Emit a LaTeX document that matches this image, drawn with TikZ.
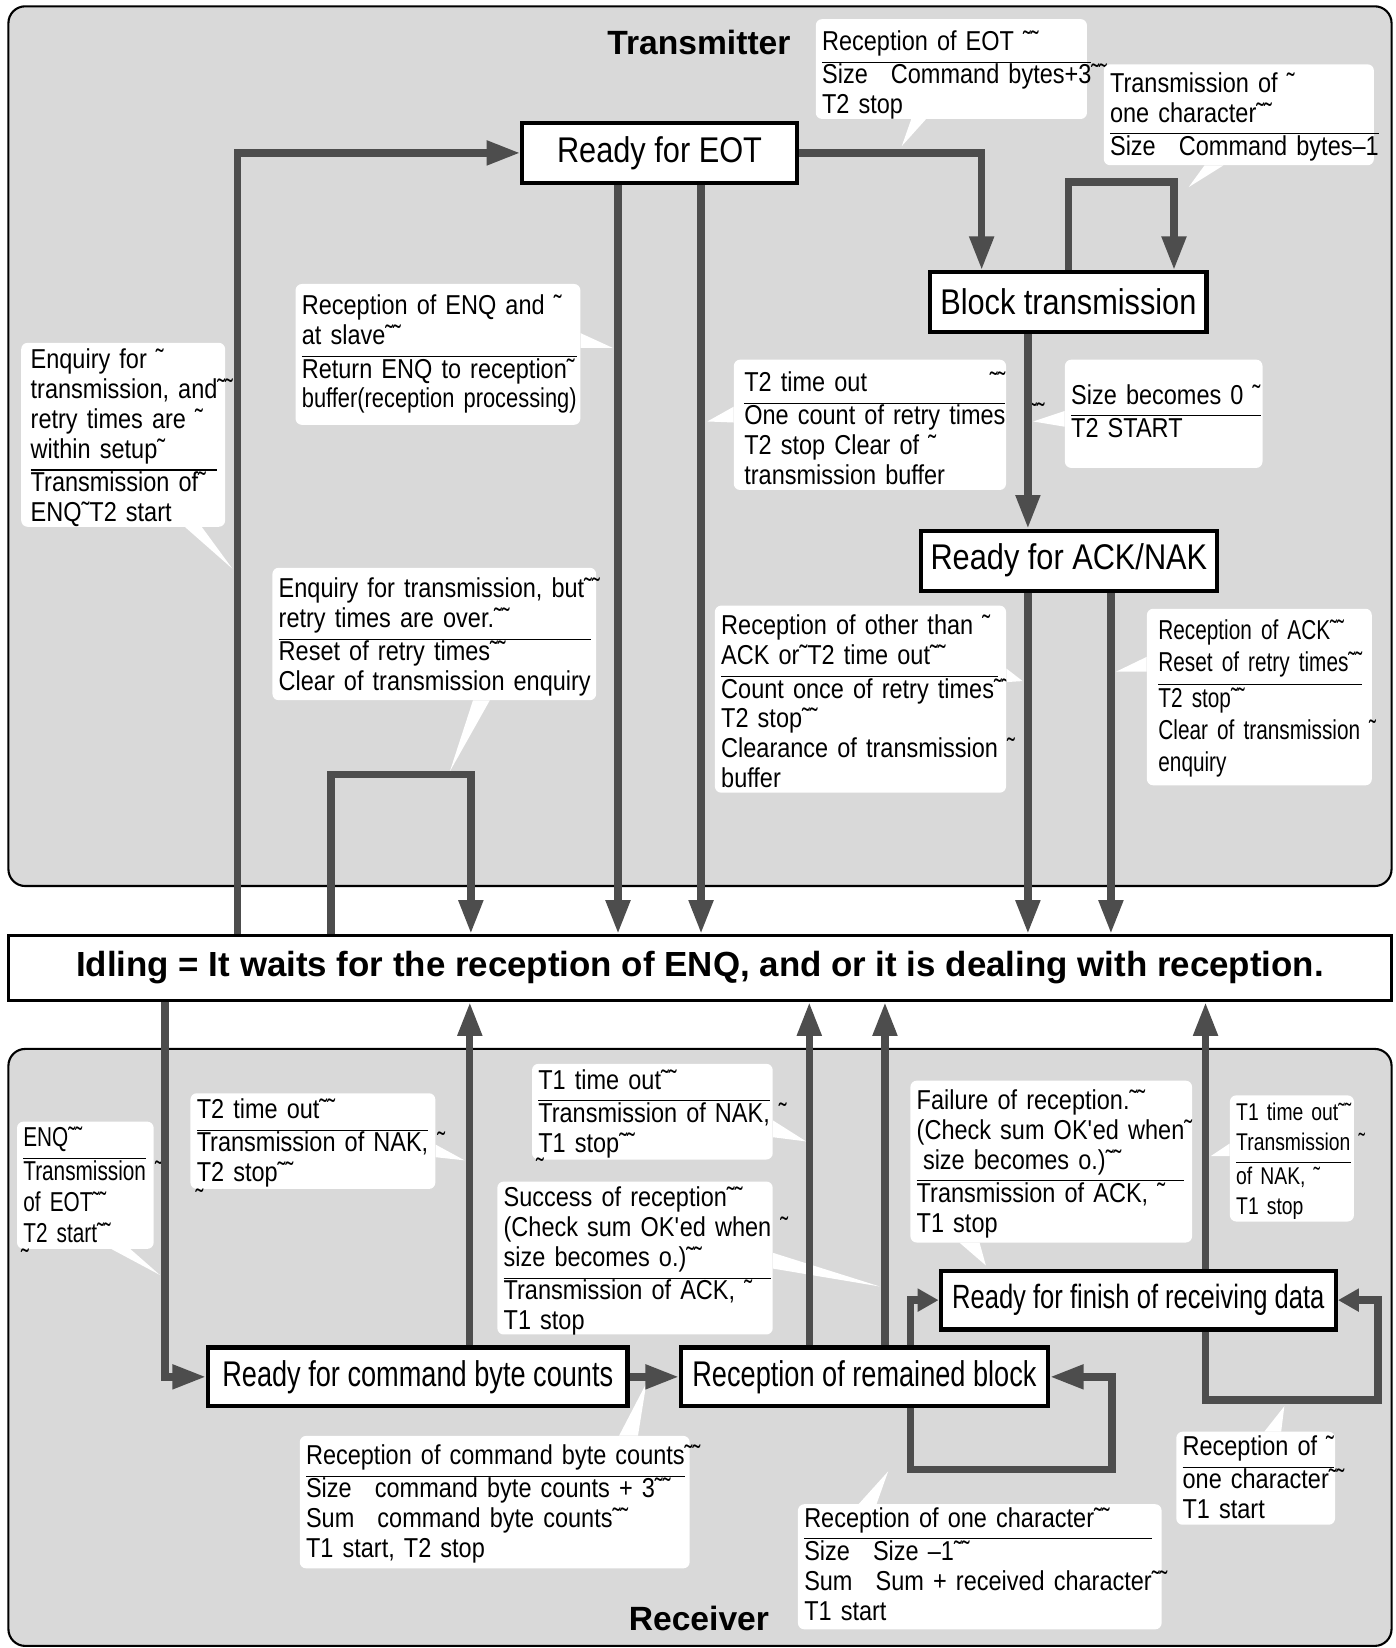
\documentclass[tikz,border=0pt]{standalone}
\usepackage{fontspec}
\setmainfont{Liberation Sans}
\newfontfamily\narrowfont[FakeStretch=0.86]{Liberation Sans}
\newfontfamily\condfont[FakeStretch=0.76]{Liberation Sans}
\newfontfamily\slimfont[FakeStretch=0.80]{Liberation Sans}
\usetikzlibrary{arrows.meta}
\definecolor{panelgray}{HTML}{D9D9D9}
\definecolor{flowgray}{HTML}{4D4D4D}
\setlength{\arrayrulewidth}{1pt}
% upper lines, rule, lower lines (optional drop of the text)
\newcommand{\twopart}[3][3pt]{\raisebox{-#1}[\height][\depth]{%
  \begin{tabular}{@{}l@{}}#2\\[2pt]\hline #3\end{tabular}}}

\tikzset{
  panel/.style={draw=black, line width=2pt, fill=panelgray, rounded corners=16pt},
  tstate/.style={draw=black, line width=4pt, fill=white, inner sep=0pt,
    font=\narrowfont\fontsize{34}{40}\selectfont},
  rstate/.style={draw=black, line width=4pt, fill=white, inner sep=0pt,
    font=\condfont\fontsize{34}{40}\selectfont},
  callout/.style={fill=white, rounded corners=6pt, anchor=north west,
    inner xsep=6pt, inner ysep=0pt, align=left,
    font=\narrowfont\fontsize{26}{28.5}\selectfont},
  stray/.style={anchor=base west, inner sep=0pt,
    font=\narrowfont\fontsize{26}{28.5}\selectfont},
  pointer/.style={fill=white},
  flow/.style={draw=flowgray, line width=7pt, -{Triangle[width=22pt,length=32pt]}},
  shortflow/.style={draw=flowgray, line width=7pt, -{Triangle[width=21pt,length=20pt]}},
  heading/.style={font=\bfseries\fontsize{32}{38}\selectfont}
}

\begin{document}
\begin{tikzpicture}[x=1pt, y=-1pt]
  \useasboundingbox (0,0) rectangle (1328,1568);

  % panels
  \draw[panel] (8,6) rectangle (1324,843);
  \draw[panel] (8,998) rectangle (1324,1566);
  \node[heading] (txhead) at (665,40) {Transmitter};
  \node[heading] (rxhead) at (665,1540) {Receiver};

  % states
  \node[draw=black, line width=3pt, fill=white, inner sep=0pt,
    minimum width=1316pt, minimum height=62pt,
    font=\bfseries\fontsize{33.2}{40}\selectfont] (idle) at (666,921)
    {Idling = It waits for the reception of ENQ, and or it is dealing with reception.};
  \node[tstate, minimum width=261pt, minimum height=57pt] (eot) at (627.5,145.5) {Ready for EOT};
  \node[tstate, minimum width=263pt, minimum height=57pt] (blk) at (1016.5,287.5) {Block transmission};
  \node[tstate, minimum width=282pt, minimum height=57pt] (ack) at (1017,533.5) {Ready for ACK/NAK};
  \node[rstate, minimum width=399pt, minimum height=56pt] (cmd) at (397.5,1310) {Ready for command byte counts};
  \node[rstate, minimum width=349pt, minimum height=56pt] (rem) at (822.5,1310) {Reception of remained block};
  \node[rstate, minimum width=376pt, minimum height=56pt,
    font=\condfont\fontsize{32}{40}\selectfont] (fin) at (1083,1237) {Ready for finish of receiving data};

  % transmitter callouts
  \node[callout, text width=246pt, minimum height=95pt] (eotnote) at (776,18)
    {\twopart[7pt]{Reception of EOT ˜˜}{Size\hspace{22pt}Command bytes+3\rlap{˜˜}\\T2 stop}};
  \node[callout, text width=245pt, minimum height=96pt] (charnote) at (1050,61)
    {\twopart{Transmission of ˜\\one character˜˜}{Size\hspace{22pt}Command bytes–1}};
  \node[callout, text width=259pt, minimum height=134pt] (enqnote) at (281,270)
    {\twopart[1pt]{Reception of ENQ and ˜\\at slave˜˜}{Return ENQ to reception˜\\{\slimfont buffer(reception processing)}}};
  \node[callout, inner xsep=9pt, text width=176pt, minimum height=175pt] (asknote) at (20,326)
    {\twopart[4pt]{Enquiry for ˜\\transmission, and\rlap{˜˜}\\retry times are ˜\\within setup˜}{Transmission of˜\\ENQ˜T2 start}};
  \node[callout, inner xsep=10pt, text width=239pt, minimum height=124pt] (t2note) at (698,342)
    {\twopart[7pt]{T2 time out\hfill˜˜}{One count of retry times\\T2 stop Clear of ˜\\transmission buffer}};
  \node[callout, text width=176pt, minimum height=103pt] (zeronote) at (1013,342)
    {\twopart[1pt]{Size becomes 0 ˜}{T2 START}};
  \node[callout, text width=296pt, minimum height=126pt] (overnote) at (259,540)
    {\twopart[4pt]{Enquiry for transmission, but\rlap{˜˜}\\retry times are over.˜˜}{Reset of retry times˜˜\\Clear of transmission enquiry}};
  \node[callout, text width=265pt, minimum height=178pt] (naknote) at (680,576)
    {\twopart[6pt]{Reception of other than ˜\\ACK or˜T2 time out˜˜}{Count once of retry times\rlap{˜˜}\\T2 stop˜˜\\Clearance of transmission\rlap{ ˜}\\buffer}};
  \node[callout, inner xsep=11pt, text width=192pt, minimum height=168pt,
    font=\condfont\fontsize{26}{30.5}\selectfont] (acknote) at (1091,579)
    {\twopart[2pt]{Reception of ACK˜˜\\Reset of retry times˜˜}{T2 stop˜˜\\Clear of transmission\rlap{ ˜}\\enquiry}};
  \node[stray] (zerotilde) at (979,402) {˜˜};

  % receiver callouts
  \node[callout, text width=118pt, minimum height=118pt,
    font=\condfont\fontsize{26}{29.5}\selectfont] (rxenq) at (16,1067)
    {\twopart{ENQ˜˜}{Transmission\rlap{ ˜}\\of EOT˜˜\\T2 start˜˜}};
  \node[callout, text width=221pt, minimum height=91pt] (rxt2) at (181,1040)
    {\twopart{T2 time out˜˜}{Transmission of NAK,\rlap{ ˜}\\T2 stop˜˜}};
  \node[callout, text width=217pt, minimum height=91pt] (rxt1) at (506,1012)
    {\twopart{T1 time out˜˜}{Transmission of NAK,\rlap{ ˜}\\T1 stop˜˜}};
  \node[callout, text width=250pt, minimum height=144pt] (rxok) at (473,1124)
    {\twopart[4pt]{Success of reception˜˜\\(Check sum OK\textquotesingle ed when\rlap{ ˜}\\size becomes o.)˜˜}{Transmission of ACK, ˜\\T1 stop}};
  \node[callout, text width=256pt, minimum height=154pt] (rxfail) at (866,1028)
    {\twopart{Failure of reception.˜˜\\(Check sum OK\textquotesingle ed when\rlap{˜}\\\hspace{6pt}size becomes o.)˜˜}{Transmission of ACK, ˜\\T1 stop}};
  \node[callout, text width=106pt, minimum height=120pt,
    font=\slimfont\fontsize{23}{29}\selectfont] (rxt1b) at (1170,1042)
    {\twopart{T1 time out˜˜\\Transmission\rlap{ ˜}}{of NAK, ˜\\T1 stop}};
  \node[callout, text width=359pt, minimum height=126pt] (rxcount) at (285,1366)
    {\twopart{Reception of command byte counts\rlap{˜˜}}{Size\hspace{22pt}command byte counts + 3˜˜\\Sum\hspace{22pt}command byte counts˜˜\\T1 start, T2 stop}};
  \node[callout, text width=334pt, minimum height=119pt] (rxchar) at (759,1431)
    {\twopart[1pt]{Reception of one character˜˜}{Size\hspace{22pt}Size –1˜˜\\Sum\hspace{22pt}Sum + received character\rlap{˜˜}\\T1 start}};
  \node[callout, text width=139pt, minimum height=86pt] (rxchar2) at (1119,1362)
    {\twopart{Reception of ˜}{one character\rlap{˜˜}\\T1 start}};
  \node[stray] (enqtilde) at (20,1207) {˜};
  \node[stray] (t2tilde) at (186,1150) {˜};
  \node[stray] (t1tilde) at (510,1120) {˜};

  % callout pointers
  \fill[pointer] (867,0 |- eotnote.south) -- (881,0 |- eotnote.south) -- (858,139) -- cycle;
  \fill[pointer] (1146,0 |- charnote.south) -- (1164,0 |- charnote.south) -- (1131,178) -- cycle;
  \fill[pointer] (enqnote.east |- 0,317) -- (enqnote.east |- 0,331) -- (583,331) -- cycle;
  \fill[pointer] (176,0 |- asknote.south) -- (192,0 |- asknote.south) -- (221,541) -- cycle;
  \fill[pointer] (t2note.west |- 0,387) -- (t2note.west |- 0,402) -- (673,401) -- cycle;
  \fill[pointer] (zeronote.west |- 0,391) -- (zeronote.west |- 0,406) -- (983,401) -- cycle;
  \fill[pointer] (450,0 |- overnote.south) -- (466,0 |- overnote.south) -- (428,734) -- cycle;
  \fill[pointer] (naknote.east |- 0,636) -- (naknote.east |- 0,649) -- (973,648) -- cycle;
  \fill[pointer] (acknote.west |- 0,625) -- (acknote.west |- 0,639) -- (1062,639) -- cycle;
  \fill[pointer] (106,0 |- rxenq.south) -- (124,0 |- rxenq.south) -- (152,1213) -- cycle;
  \fill[pointer] (rxt2.east |- 0,1089) -- (rxt2.east |- 0,1101) -- (442,1104) -- cycle;
  \fill[pointer] (rxt1.east |- 0,1066) -- (rxt1.east |- 0,1082) -- (767,1086) -- cycle;
  \fill[pointer] (rxok.east |- 0,1192) -- (rxok.east |- 0,1207) -- (837,1224) -- cycle;
  \fill[pointer] (913,0 |- rxfail.south) -- (932,0 |- rxfail.south) -- (938,1204) -- cycle;
  \fill[pointer] (rxt1b.west |- 0,1088) -- (rxt1b.west |- 0,1100) -- (1152,1100) -- cycle;
  \fill[pointer] (589,0 |- rxcount.north) -- (607,0 |- rxcount.north) -- (615,1316) -- cycle;
  \fill[pointer] (817,0 |- rxchar.north) -- (834,0 |- rxchar.north) -- (845,1400) -- cycle;
  \fill[pointer] (1203,0 |- rxchar2.north) -- (1219,0 |- rxchar2.north) -- (1222,1338) -- cycle;

  % transmitter transitions
  \draw[flow] (226,0 |- idle.north) |- (eot.west);
  \draw[flow] (588,0 |- eot.south) -- (588,0 |- idle.north);
  \draw[flow] (667,0 |- eot.south) -- (667,0 |- idle.north);
  \draw[flow] (eot.east) -| (934,0 |- blk.north);
  \draw[flow] (blk.north) |- (1117,173) -- (1117,0 |- blk.north);
  \draw[flow] (978,0 |- blk.south) -- (978,0 |- ack.north);
  \draw[flow] (978,0 |- ack.south) -- (978,0 |- idle.north);
  \draw[flow] (1057,0 |- ack.south) -- (1057,0 |- idle.north);
  \draw[flow] (315,0 |- idle.north) |- (448,737) -- (448,0 |- idle.north);

  % receiver transitions
  \draw[flow] (157,0 |- idle.south) |- (cmd.west);
  \draw[flow] (447,0 |- cmd.north) -- (447,0 |- idle.south);
  \draw[flow] (cmd.east) -- (rem.west);
  \draw[flow] (770,0 |- rem.north) -- (770,0 |- idle.south);
  \draw[flow] (842,0 |- rem.north) -- (842,0 |- idle.south);
  \draw[shortflow] (866,0 |- rem.north) |- (fin.west);
  \draw[flow] (866,0 |- rem.south) |- (1058,1398) |- (rem.east);
  \draw[flow] (1147,0 |- fin.north) -- (1147,0 |- idle.south);
  \draw[shortflow] (1147,0 |- fin.south) |- (1311,1332) |- (fin.east);
\end{tikzpicture}
\end{document}
